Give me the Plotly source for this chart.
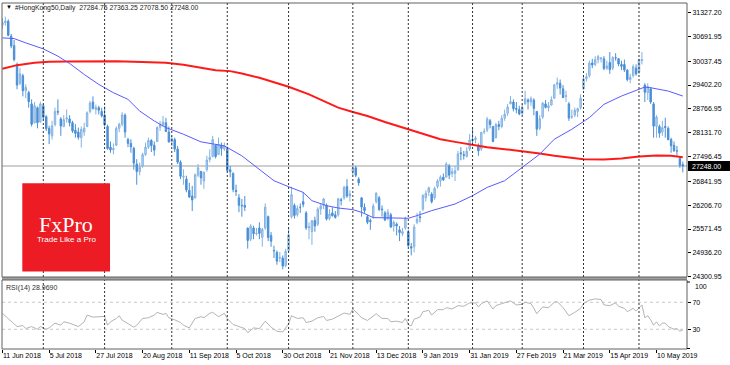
import plotly.graph_objects as go

# ---------------- data ----------------
open_ = [31000,31060,31100,30700,30450,29950,29450,29650,29250,29200,
         28900,28400,28800,28420,28850,28560,28250,28050,28350,28700,
         28500,28300,28500,28500,28400,28200,28150,28000,28150,28300,
         28700,28950,28750,28800,28700,28600,28300,27750,27680,27800,
         28250,28360,28600,27950,27850,27720,27300,27100,27250,27550,
         27750,27930,27800,27900,28280,28350,28400,28150,27900,27950,
         27700,27350,26950,26900,26600,26450,26400,27000,27100,26850,
         27150,27420,27500,27800,27550,27800,27700,27700,27150,27050,
         26600,26400,26200,26200,25600,25300,25600,25450,25600,25350,
         25600,25900,25400,25000,24950,24800,24800,24600,25000,25900,
         26200,25950,26150,26300,26000,25600,25500,25800,25700,26100,
         26200,26200,25850,26000,25950,25950,26350,26400,26700,26450,
         27100,27200,26900,26400,26150,25900,25800,25900,26300,26400,
         26100,26000,25850,25950,25650,25700,25550,25450,25600,25500,
         25100,25100,25750,25900,26100,26400,26550,26500,26400,26700,
         26850,26950,26950,27250,27050,27050,27150,27600,27550,27500,
         27700,27950,27950,27800,27700,28150,28200,28450,28300,28000,
         28350,28300,28520,28650,28900,28950,28780,28750,28650,28900,
         29000,28950,29000,28700,28250,28550,28900,28800,28870,29050,
         29420,29450,29300,29100,28900,28550,28600,28700,28800,29300,
         29570,29650,29990,29950,30080,30100,30100,29850,30000,29850,
         30130,30100,29950,29950,29800,29550,29650,29850,29750,30050,
         29400,29200,29300,28900,28300,28300,28150,28300,28250,27950,
         27800,27650,27450,27284.75]
high = [31180,31220,31150,30760,30600,30000,29860,29700,29420,29250,
        29020,28950,28830,28960,28900,28600,28320,28450,28800,29020,
        28550,28600,28750,28600,28450,28360,28270,28300,28400,28700,
        28980,29100,28880,28850,28800,28830,28350,27900,27850,28300,
        28400,28680,28650,28000,27960,27760,27430,27340,27600,27870,
        28005,27960,27900,28300,28450,28580,28530,28300,28050,28000,
        27780,27400,27160,26990,26800,26720,27050,27300,27120,27100,
        27520,27690,28050,27800,28000,27870,27870,27760,27250,27080,
        26750,26500,26370,26450,25600,25700,25660,25600,25750,25600,
        26250,25930,25490,25130,25000,24960,24870,25044,25600,26700,
        26250,26200,26250,26550,26050,25750,25800,25900,26150,26250,
        26400,26250,26100,26150,26050,26400,26400,26720,26900,26600,
        27300,27250,26950,26420,26250,25950,25850,26250,26550,26450,
        26200,26050,26100,26000,25800,25750,25650,25600,25900,25550,
        25200,25700,26000,26050,26500,26600,26700,26550,26700,26900,
        27000,27050,27350,27300,27200,27250,27650,27750,27650,27750,
        28100,28270,28050,27850,28150,28250,28550,28500,28300,28400,
        28450,28600,28750,28900,29110,29020,28950,28850,28900,29250,
        29050,29100,29050,28700,28600,28950,29000,28950,29100,29420,
        29600,29550,29400,29250,28950,28750,28800,28800,29150,29650,
        29720,30050,30100,30170,30200,30150,30170,30050,30280,30170,
        30250,30120,30050,30080,29820,29700,29950,29950,30100,30280,
        29450,29450,29350,28950,28600,28350,28450,28530,28300,28000,
        27900,27780,27480,27363.25]
low = [30900,30980,30700,30380,30030,29290,29400,29100,29050,28800,
       28300,28380,28250,28400,28480,28180,27830,27950,28300,28600,
       28050,28280,28400,28300,28130,28000,27950,27740,28050,28280,
       28650,28750,28620,28620,28540,28300,27680,27600,27560,27780,
       28150,28300,28000,27750,27600,27150,26750,27000,27200,27520,
       27700,27620,27520,27880,28180,28300,28150,27870,27780,27620,
       27300,26900,26750,26550,26400,26050,26380,26950,26750,26640,
       27100,27350,27480,27450,27550,27520,27650,27100,26950,26550,
       26450,26020,25900,26050,25050,25250,25300,25400,25300,25100,
       25550,25250,25100,24800,24620,24690,24500,24550,24950,25850,
       25850,25900,26000,26150,25550,25300,25150,25500,25650,25950,
       26100,25800,25800,25900,25850,25900,26200,26350,26400,26300,
       27000,26950,26720,25900,26000,25700,25550,25850,26250,26050,
       25900,25780,25800,25600,25500,25400,25250,25380,25550,25100,
       24870,24950,25700,25750,26050,26300,26450,26250,26350,26650,
       26700,26850,26950,26900,26950,26850,27120,27400,27420,27480,
       27650,27850,27850,27520,27650,28100,28150,28250,27880,27980,
       28200,28250,28450,28580,28900,28700,28650,28600,28600,28880,
       28750,28850,28600,28050,28200,28500,28780,28700,28850,29030,
       29300,29150,29050,28950,28450,28500,28550,28550,28750,29280,
       29500,29600,29850,29900,29980,30000,29800,29800,29700,29800,
       30050,29900,29800,29750,29500,29450,29600,29650,29700,29950,
       28950,29000,28900,28000,28000,28000,28050,28000,27950,27600,
       27620,27520,27200,27078.50]
close = [31063,31103,30725,30440,30080,29400,29700,29250,29340,28960,
         28360,28850,28400,28900,28545,28241,28100,28316,28700,28682,
         28311,28481,28525,28400,28181,28117,28010,28224,28256,28662,
         28920,28781,28804,28733,28583,28340,27714,27676,27714,28248,
         28359,28607,28150,27850,27753,27323,27100,27213,27550,27752,
         27927,27790,27671,28271,28351,28416,28164,27888,27973,27700,
         27350,26974,26973,26613,26422,26345,27014,27200,26932,27084,
         27407,27477,27950,27499,27816,27715,27788,27126,27091,26623,
         26572,26202,26193,26150,25266,25650,25445,25462,25454,25561,
         26153,25346,25249,24994,24717,24812,24585,24980,25416,26486,
         25934,26120,26147,26227,25602,25633,25792,25654,26103,26183,
         26372,25840,25970,25927,25880,26376,26331,26682,26451,26506,
         27182,27000,26800,26156,26063,25752,25771,26186,26524,26094,
         26087,25814,26021,25623,25753,25651,25478,25504,25846,25130,
         25064,25626,25835,25875,26462,26521,26667,26298,26650,26850,
         26950,26880,27300,27005,27100,27120,27569,27576,27531,27642,
         27942,27930,27990,27650,28143,28171,28497,28350,27901,28347,
         28300,28514,28629,28816,28959,28772,28757,28633,28812,29036,
         28961,29037,28779,28228,28503,28920,28807,28851,29012,29409,
         29466,29320,29071,29113,28523,28566,28728,28775,29051,29562,
         29624,29986,29936,30077,30157,30119,29839,29909,29812,30130,
         30124,29963,29900,29805,29549,29605,29892,29699,30082,30081,
         29210,29363,28950,28311,28550,28122,28268,28275,27946,27787,
         27657,27650,27267,27248.00]
bar = list(range(len(close)))

ma_fast_bar = [0, 4, 8, 14, 19, 23, 28, 33, 38, 43, 47, 52, 56, 62, 68, 72, 76, 82,
               88, 93, 98, 103, 106, 111, 115, 120, 123, 127, 133, 139, 142, 147, 155,
               161, 166, 172, 178, 184, 189, 195, 201, 206, 212, 218, 220, 222, 228, 233]
ma_fast = [30656, 30638, 30523, 30364, 30170, 29975, 29684, 29418, 29198, 29021, 28711,
           28446, 28270, 28093, 27890, 27828, 27784, 27518, 27165, 26856, 26697, 26546,
           26325, 26193, 26131, 26087, 26016, 25875, 25866, 25857, 25928, 26060, 26237,
           26458, 26679, 26856, 27209, 27563, 27960, 28226, 28535, 28888, 29109, 29286,
           29348, 29330, 29242, 29109]
ma_slow_bar = [0, 5, 11, 16, 22, 28, 33, 39, 45, 51, 56, 62, 68, 73, 78, 82, 88, 93, 98,
               105, 111, 115, 120, 125, 131, 139, 145, 150, 155, 161, 166, 172, 178, 184,
               189, 195, 199, 206, 212, 218, 224, 229, 233]
ma_slow = [29834, 29931, 29993, 30019, 30028, 30037, 30046, 30037, 30019, 30010, 29993,
           29940, 29860, 29798, 29772, 29710, 29595, 29480, 29356, 29153, 28950, 28800,
           28685, 28579, 28420, 28226, 28066, 27960, 27890, 27810, 27748, 27695, 27642,
           27580, 27518, 27465, 27430, 27421, 27448, 27501, 27527, 27518, 27483]

rsi_bar = [0, 2, 4, 5, 7, 8, 10, 12, 13, 15, 16, 18, 20, 21, 23, 25, 26, 28, 29, 31,
           33, 35, 36, 37, 39, 40, 41, 43, 45, 46, 48, 50, 52, 53, 55, 56, 57, 59, 61,
           62, 64, 66, 68, 69, 71, 72, 74, 76, 77, 79, 81, 83, 84, 86, 88, 90, 92, 94,
           96, 98, 99, 101, 103, 104, 106, 108, 110, 111, 113, 115, 117, 119, 120, 122,
           123, 125, 127, 128, 130, 132, 133, 135, 137, 138, 139, 140, 141, 143, 144,
           146, 147, 149, 151, 152, 154, 156, 158, 160, 162, 163, 164, 166, 168, 169,
           171, 173, 174, 176, 178, 179, 181, 182, 183, 185, 187, 189, 190, 192, 194,
           196, 198, 199, 201, 203, 205, 206, 208, 210, 211, 213, 214, 216, 217, 219,
           220, 221, 222, 223, 224, 225, 226, 227, 228, 229, 230, 231, 232, 233]
rsi = [53.6, 46, 37, 34, 35.5, 31, 34, 30, 34, 30, 32, 39, 36, 41, 39, 36, 34, 41, 51, 48,
       48, 49, 36, 41, 46, 50, 43.5, 38.8, 33, 36, 46, 47, 51, 55, 52, 53.6, 47, 44, 40,
       36, 32, 46, 48.6, 47, 53.6, 55, 48.6, 53.6, 46, 37, 34, 31, 25, 32, 31, 42, 33, 27,
       26, 38, 50, 46, 47, 40, 42, 47, 49, 43, 45, 50, 54, 52, 60, 52,
       47, 43, 49, 53, 46, 46, 41, 42, 40, 46, 37, 35, 45, 48, 56,
       58, 51, 59, 59, 62, 60, 65, 64, 69, 69, 63, 68, 72, 60, 65,
       68, 71, 72, 66, 67, 70, 68, 61, 53, 63, 62, 70, 71, 62, 50,
       55, 61, 68, 73, 75, 74, 66, 65, 69, 64, 61, 56, 61, 57, 66,
       47, 50, 44, 36, 41, 35, 39, 39, 34, 32, 30, 31, 27, 28.969]

tick_bars = [0, 16, 32, 48, 64, 80, 96, 112, 128, 144, 160, 176, 192, 208, 224]
tick_labels = ["11 Jun 2018", "5 Jul 2018", "27 Jul 2018", "20 Aug 2018", "11 Sep 2018",
               "5 Oct 2018", "30 Oct 2018", "21 Nov 2018", "13 Dec 2018", "9 Jan 2019",
               "31 Jan 2019", "27 Feb 2019", "21 Mar 2019", "15 Apr 2019", "10 May 2019"]
month_start_bars = [14, 35, 58, 77, 98, 120, 139, 161, 178, 199, 218]
price_ticks = [31327.20, 30691.95, 30037.45, 29402.20, 28766.95, 28131.70, 27496.45,
               26841.95, 26206.70, 25571.45, 24936.20, 24300.95]
rsi_levels = [70, 30]
rsi_bounds = ["100", "0"]
symbol = "#HongKong50,Daily"
last_ohlc = [27284.75, 27363.25, 27078.50, 27248.00]
rsi_last = 28.9690

# ---------------- layout geometry ----------------
W, H = 730, 365
ML, MR, MT, MB = 2, 43, 3, 16
PW, PH = W - ML - MR, H - MT - MB


def px(x):
    return (x - ML) / PW


def py(y):
    return (H - MB - y) / PH


main_dom = [py(277), 1.0]
rsi_dom = [0.0, py(280)]
x_range = [-0.144, 234.44]
y_range = [24295, 31584.3]
rsi_range = [0.74, 102.96]
FONT = "Liberation Sans, Arial, sans-serif"

# y2 value that sits 4 px above the RSI panel bottom (where the "0" label is drawn)
rsi_px = (rsi_range[1] - rsi_range[0]) / (PH * (rsi_dom[1] - rsi_dom[0]))
zero_label_y = rsi_range[0] + 4 * rsi_px
label_bar = x_range[1] + 6 / ((PW) / (x_range[1] - x_range[0]))

fig = go.Figure()
fig.add_trace(go.Candlestick(
    x=bar, open=open_, high=high, low=low, close=close,
    xaxis="x", yaxis="y", whiskerwidth=0, showlegend=False, hoverinfo="skip",
    increasing=dict(line=dict(color="#82b2e2", width=1), fillcolor="#c2daf3"),
    decreasing=dict(line=dict(color="#4a8fd6", width=1), fillcolor="#4a8fd6"),
))
fig.add_trace(go.Scatter(x=ma_slow_bar, y=ma_slow, mode="lines", xaxis="x", yaxis="y",
                         line=dict(color="#ff1a1a", width=2), showlegend=False, hoverinfo="skip"))
fig.add_trace(go.Scatter(x=ma_fast_bar, y=ma_fast, mode="lines", xaxis="x", yaxis="y",
                         line=dict(color="#5a5aff", width=1), showlegend=False, hoverinfo="skip"))
fig.add_trace(go.Scatter(x=rsi_bar, y=rsi, mode="lines", xaxis="x2", yaxis="y2",
                         line=dict(color="#b4b4b4", width=1), showlegend=False, hoverinfo="skip"))
# "0" bound label of the RSI scale, drawn as a text mark outside the plot area
fig.add_trace(go.Scatter(x=[label_bar], y=[zero_label_y], mode="text", text=[rsi_bounds[1]],
                         textposition="middle right", cliponaxis=False, xaxis="x2", yaxis="y2",
                         textfont=dict(size=7, color="#000000", family=FONT),
                         showlegend=False, hoverinfo="skip"))

shapes = []
shapes.append(dict(type="line", xref="paper", yref="y", x0=0, x1=1, y0=last_ohlc[3], y1=last_ohlc[3],
                   line=dict(color="#cfcfcf", width=2), layer="below"))
for lv in rsi_levels:
    shapes.append(dict(type="line", xref="paper", yref="y2", x0=0, x1=1, y0=lv, y1=lv,
                       line=dict(color="#c8c8c8", width=1, dash="3px,3px"), layer="below"))
for b in month_start_bars:
    for d in (main_dom, rsi_dom):
        shapes.append(dict(type="line", xref="x", yref="paper", x0=b, x1=b, y0=d[0], y1=d[1],
                           line=dict(color="#303030", width=1, dash="2px,2px")))
shapes.append(dict(type="rect", xref="paper", yref="paper", x0=0, x1=1, y0=rsi_dom[1], y1=main_dom[0],
                   fillcolor="#a0a0a0", line=dict(width=0)))
for d in (main_dom, rsi_dom):
    shapes.append(dict(type="rect", xref="paper", yref="paper", x0=0, x1=1, y0=d[0], y1=d[1],
                       line=dict(color="#606060", width=1)))
shapes.append(dict(type="rect", xref="paper", yref="paper", x0=px(22.3), x1=px(110),
                   y0=py(271.5), y1=py(183.3), fillcolor="#ed1c24", line=dict(width=0)))
shapes.append(dict(type="rect", xref="paper", yref="paper", x0=px(688), x1=px(731),
                   y0=py(171), y1=py(161), fillcolor="#000000", line=dict(width=0)))
for yb in (py(282), py(348.5)):
    shapes.append(dict(type="line", xref="paper", yref="paper", x0=1, x1=px(690), y0=yb, y1=yb,
                       line=dict(color="#000000", width=1)))

annotations = [
    dict(text="▼", xref="paper", yref="paper", x=px(3.5), y=py(7), xanchor="left", yanchor="middle",
         showarrow=False, font=dict(size=6, color="#000000", family=FONT)),
    dict(text=symbol + "  " + " ".join(f"{v:.2f}" for v in last_ohlc), xref="paper", yref="paper",
         x=px(13), y=py(8.5), xanchor="left", yanchor="middle", showarrow=False,
         font=dict(size=6.8, color="#202020", family=FONT)),
    dict(text=f"RSI(14) {rsi_last:.4f}", xref="paper", yref="paper", x=px(4), y=py(288),
         xanchor="left", yanchor="middle", showarrow=False, font=dict(size=7, color="#303030", family=FONT)),
    dict(text="FxPro", xref="paper", yref="paper", x=px(66.2), y=py(224.5), xanchor="center",
         yanchor="middle", showarrow=False,
         font=dict(size=22, color="#ffffff", family="Liberation Serif, Times New Roman, serif")),
    dict(text="Trade Like a Pro", xref="paper", yref="paper", x=px(66.2), y=py(239.5),
         xanchor="center", yanchor="middle", showarrow=False,
         font=dict(size=8, color="#ffffff", family=FONT)),
    dict(text=f"{last_ohlc[3]:.2f}", xref="paper", yref="paper", x=px(690), y=py(166),
         xanchor="left", yanchor="middle", showarrow=False,
         font=dict(size=7, color="#ffffff", family=FONT)),
    dict(text=rsi_bounds[0], xref="paper", yref="paper", x=px(693), y=py(286.5), xanchor="left",
         yanchor="middle", showarrow=False, font=dict(size=7, color="#000000", family=FONT)),
]

fig.update_layout(
    width=W, height=H, margin=dict(l=ML, r=MR, t=MT, b=MB, pad=0, autoexpand=False),
    paper_bgcolor="#ffffff", plot_bgcolor="#ffffff",
    shapes=shapes, annotations=annotations, showlegend=False,
    xaxis=dict(domain=[0, 1], range=x_range, anchor="y", showticklabels=False, showgrid=False,
               zeroline=False, rangeslider=dict(visible=False), automargin=False),
    xaxis2=dict(domain=[0, 1], range=x_range, anchor="y2", tickmode="array", tickvals=tick_bars,
                ticktext=tick_labels, ticks="outside", ticklen=3, tickcolor="#000000", tickangle=0,
                ticklabelposition="outside right", showgrid=False, zeroline=False, automargin=False,
                tickfont=dict(size=7, color="#000000", family=FONT)),
    yaxis=dict(domain=main_dom, range=y_range, anchor="x", side="right", tickmode="array",
               tickvals=price_ticks, ticktext=[f"{v:.2f}" for v in price_ticks], ticks="outside",
               ticklen=3, tickcolor="#000000", showgrid=False, zeroline=False, automargin=False,
               tickfont=dict(size=7, color="#000000", family=FONT)),
    yaxis2=dict(domain=rsi_dom, range=rsi_range, anchor="x2", side="right", tickmode="array",
                tickvals=rsi_levels, ticktext=[str(v) for v in rsi_levels], ticks="outside",
                ticklen=3, tickcolor="#000000", showgrid=False, zeroline=False, automargin=False,
                tickfont=dict(size=7, color="#000000", family=FONT)),
)

fig.write_html("out.html", config={"displayModeBar": False},
               post_script="document.body.style.margin='0';")
